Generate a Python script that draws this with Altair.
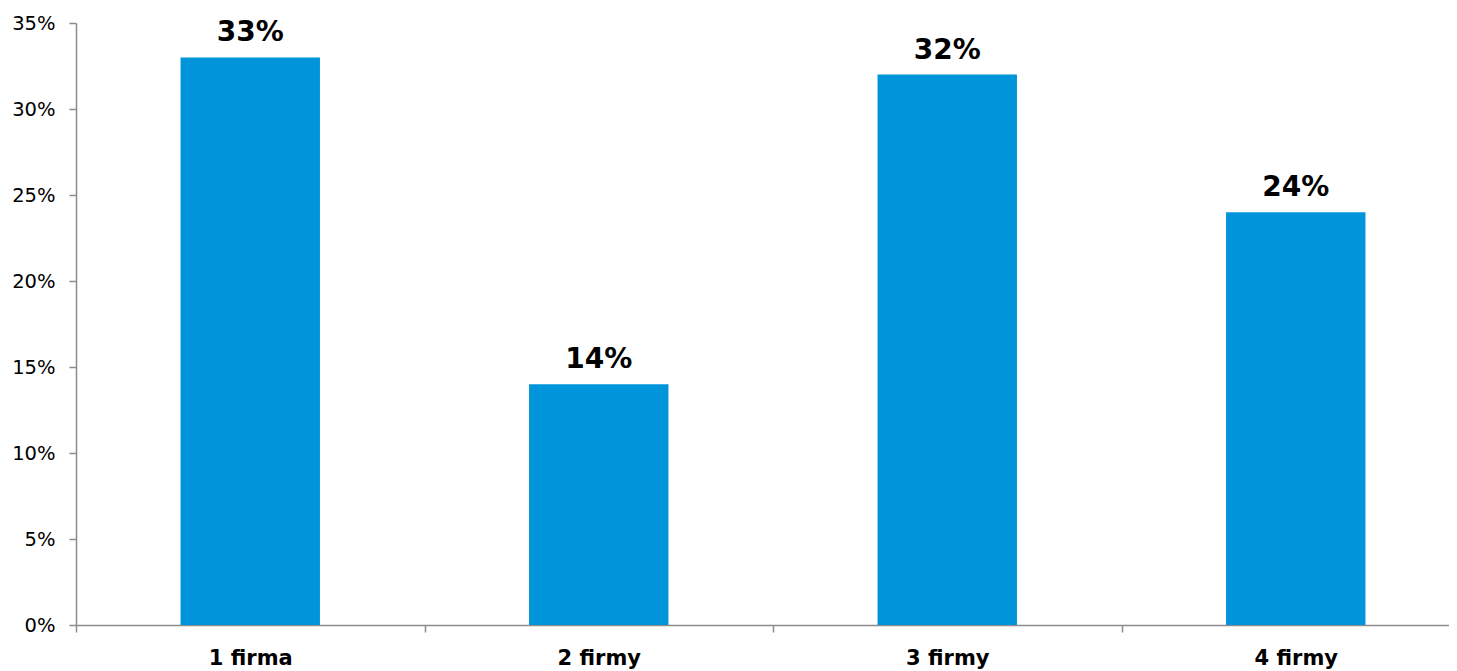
import altair as alt
import pandas as pd

categories = ["1 firma", "2 firmy", "3 firmy", "4 firmy"]
values = [0.33, 0.14, 0.32, 0.24]
value_labels = ["33%", "14%", "32%", "24%"]

df = pd.DataFrame({"cat": categories, "val": values, "lab": value_labels})

FONT = "DejaVu Sans"
STEP = 348.5

x = alt.X(
    "cat:N",
    sort=categories,
    title=None,
    scale=alt.Scale(range=[0, 4 * STEP], paddingInner=0.6, paddingOuter=0.3),
    axis=alt.Axis(
        labelAngle=0,
        labelFont=FONT,
        labelFontSize=21,
        labelFontWeight="bold",
        labelColor="#000000",
        labelPadding=15,
        labelOffset=STEP / 2,
        tickSize=7,
        tickOffset=-STEP / 2,
        tickColor="#8c8c8c",
        domainColor="#8c8c8c",
        domainWidth=1.5,
        tickWidth=1.5,
    ),
)

y = alt.Y(
    "val:Q",
    title=None,
    scale=alt.Scale(domain=[0, 0.35], nice=False),
    axis=alt.Axis(
        format=".0%",
        values=[0, 0.05, 0.10, 0.15, 0.20, 0.25, 0.30, 0.35],
        labelFont=FONT,
        labelFontSize=19.5,
        labelColor="#000000",
        labelPadding=14,
        tickSize=7,
        tickColor="#8c8c8c",
        domainColor="#8c8c8c",
        domainWidth=1.5,
        tickWidth=1.5,
        grid=False,
    ),
)

bars = alt.Chart(df).mark_bar(color="#0095DA").encode(x=x, y=y)

text = alt.Chart(df).mark_text(
    font=FONT, fontSize=28, fontWeight="bold", color="#000000",
    baseline="alphabetic", dy=-16
).encode(x=alt.X("cat:N", sort=categories), y=alt.Y("val:Q"), text="lab:N")

chart = (
    alt.layer(bars, text)
    .properties(
        width=1373,
        height=602,
        autosize=alt.AutoSizeParams(type="none"),
        padding={"left": 68, "top": 15, "right": 0, "bottom": 45},
    )
    .configure_view(stroke=None)
    .configure_axis(grid=False)
)

chart.save("out.html", embed_options={"renderer": "svg", "actions": False})
